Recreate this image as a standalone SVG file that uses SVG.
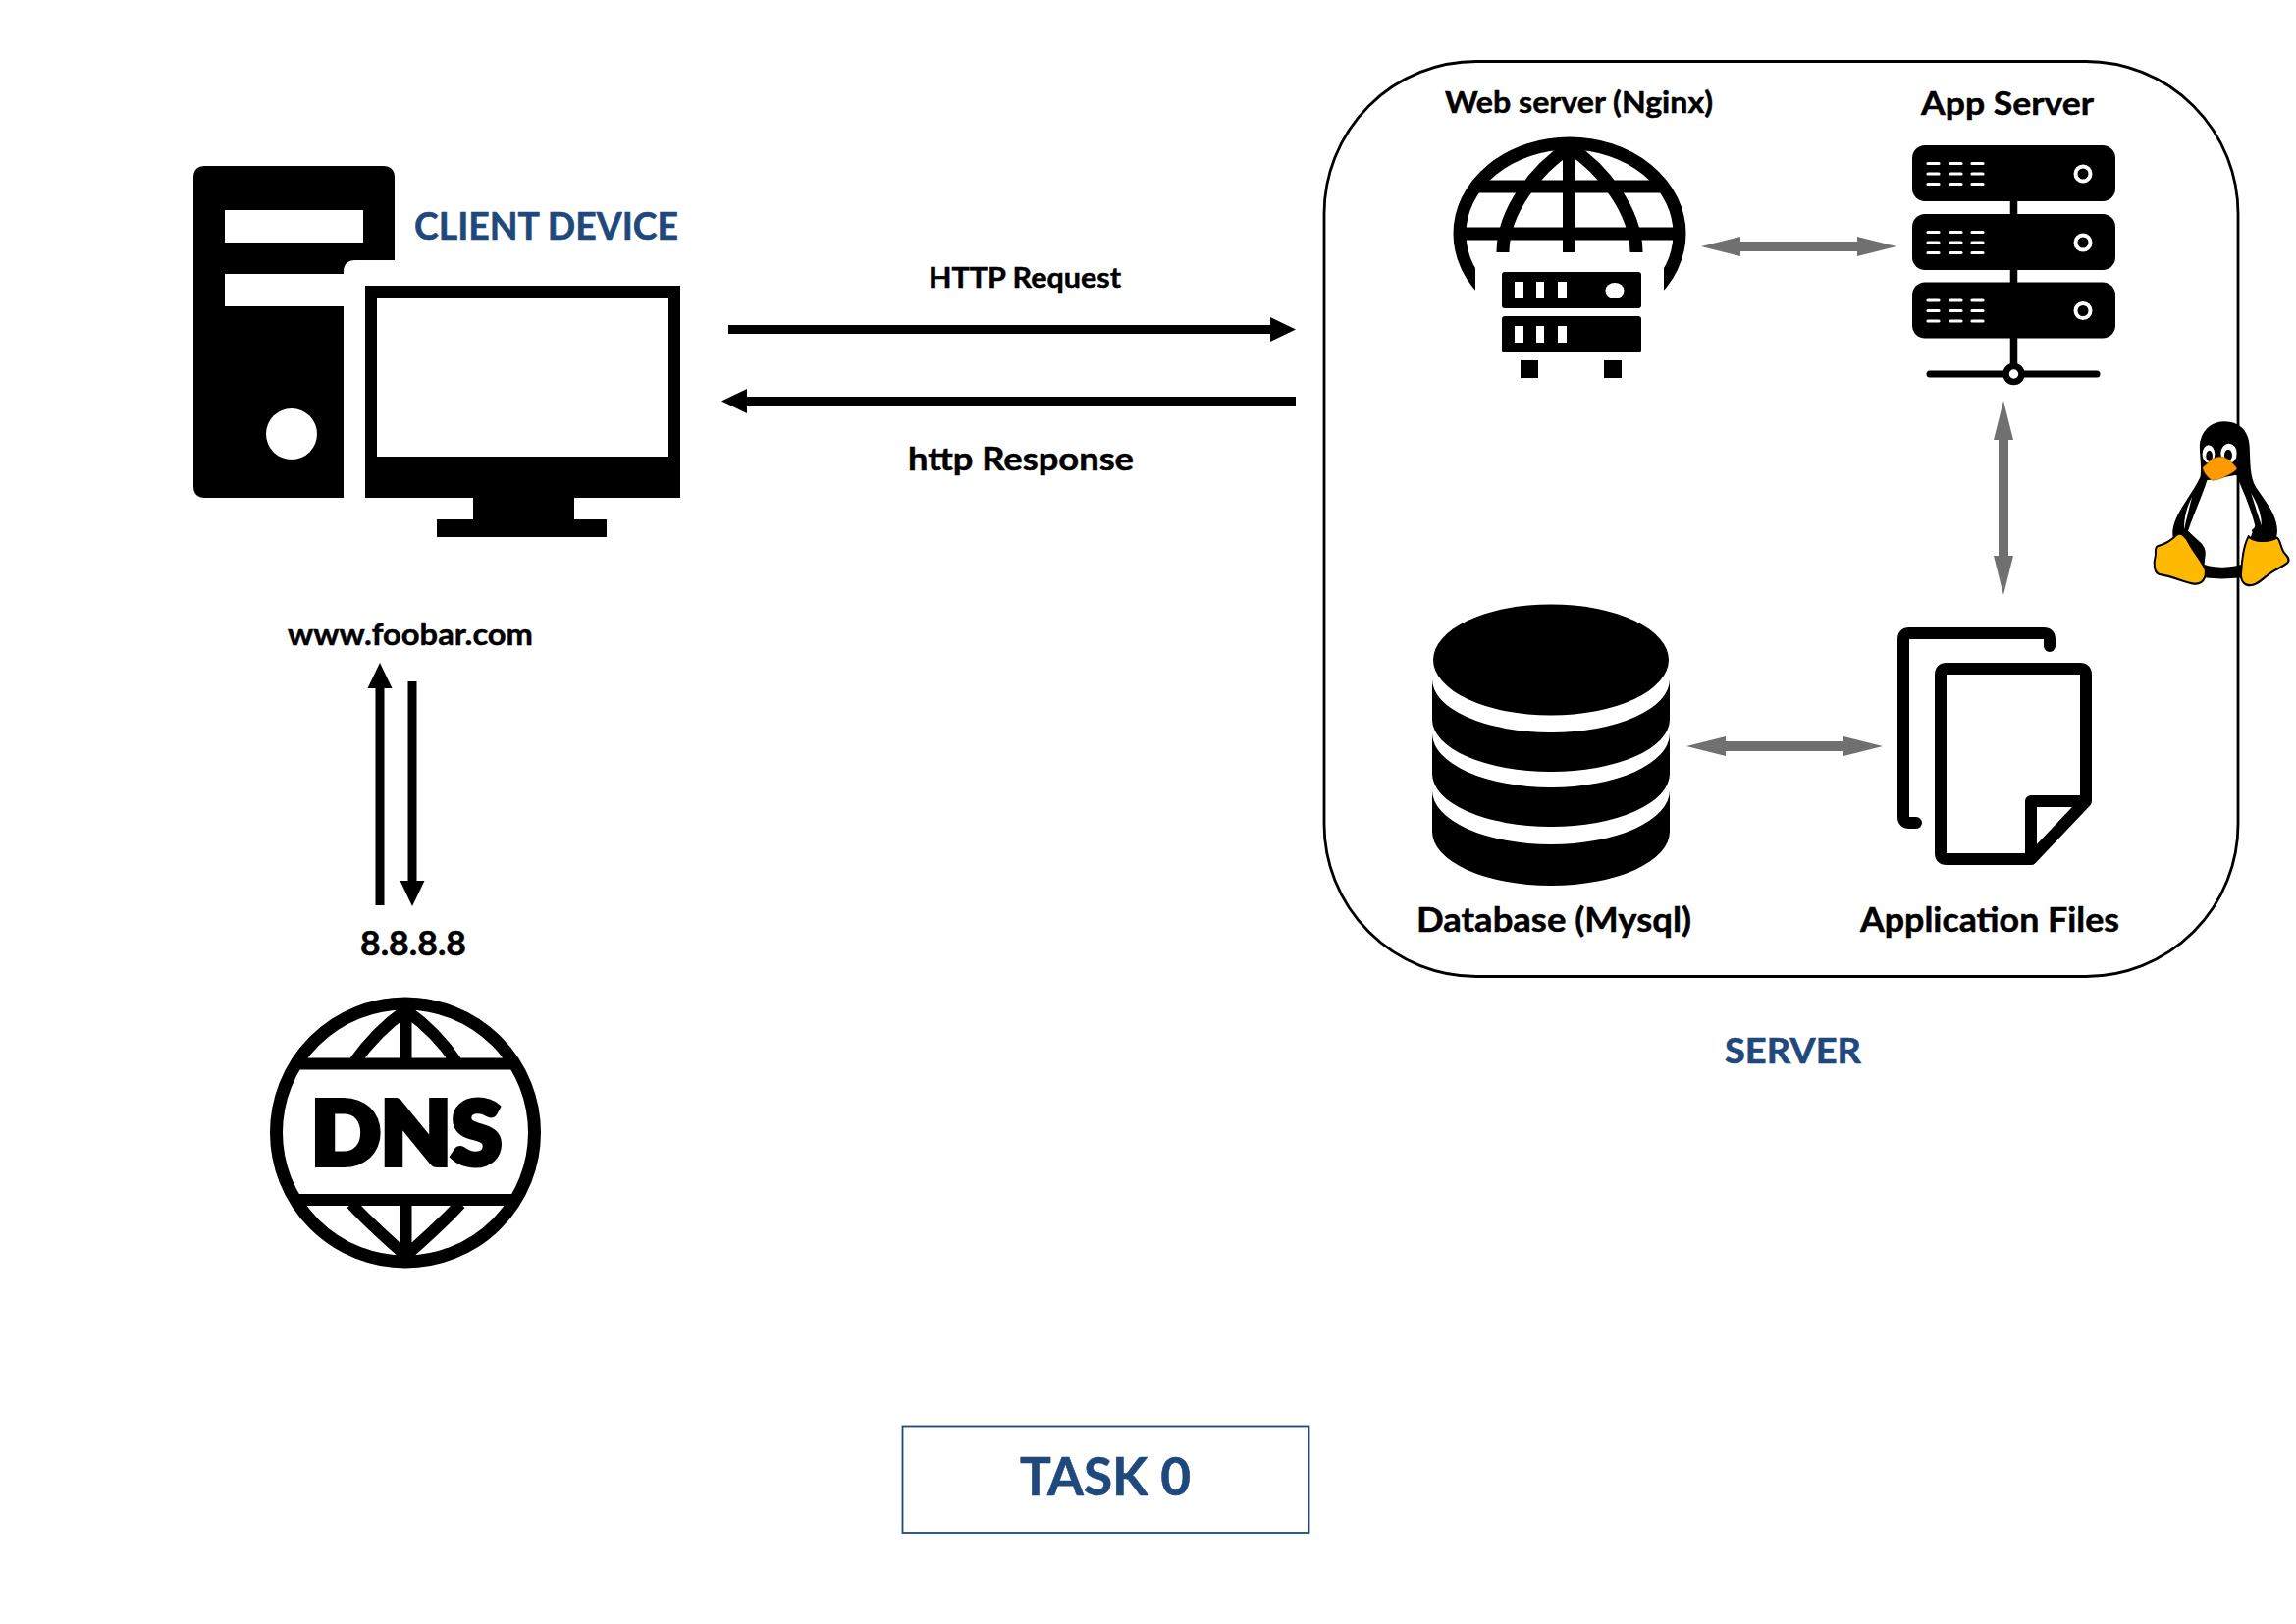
<svg xmlns="http://www.w3.org/2000/svg" width="2339" height="1654" viewBox="0 0 2339 1654">
<style>
text{font-family:"Lato","Carlito","Open Sans",sans-serif;font-weight:700;fill:#000;stroke:#000;stroke-width:.5}
text.blue{fill:#1F497D;stroke:#1F497D;stroke-width:.6}
.k{fill:#000}
.w{fill:#fff}
.ring{fill:none;stroke:#000;stroke-width:13}
.dash{stroke:#fff;stroke-width:3.2;stroke-linecap:round;fill:none}
.led{fill:none;stroke:#fff;stroke-width:4}
.page{fill:none;stroke:#000;stroke-width:12;stroke-linecap:round;stroke-linejoin:round}
.blk{stroke:#000;stroke-width:9;fill:none}
.gry{stroke:#707070;stroke-width:10;fill:none;marker-start:url(#hg);marker-end:url(#hg)}
.foot{fill:#FFB900;stroke:#000;stroke-width:6;stroke-linejoin:round}
</style>
<defs>
<marker id="hb" markerUnits="userSpaceOnUse" markerWidth="26" markerHeight="26" refX="0" refY="13" orient="auto"><path d="M0 .5L26 13L0 25.5Z" fill="#000"/></marker>
<marker id="hg" markerUnits="userSpaceOnUse" markerWidth="40" markerHeight="20" refX="0" refY="10" orient="auto-start-reverse"><path d="M0 0L40 10L0 20Z" fill="#707070"/></marker>
<clipPath id="webclip"><path d="M1470 130H1730V310H1695V257H1503V310H1470Z"/></clipPath>
<g id="rackunit">
<rect x="1948" y="0" width="207" height="57" rx="13" class="k"/>
<path class="dash" d="M1964 18.500H1975M1987 18.500H1998M2009 18.500H2020M1964 29H1975M1987 29H1998M2009 29H2020M1964 39.500H1975M1987 39.500H1998M2009 39.500H2020"/>
<circle cx="2122" cy="29" r="7.500" class="led"/>
</g>
</defs>

<g id="linux-tux" transform="translate(1900,60) scale(.3333,.37)">
<path class="k" d="M1098 998C1140 998 1172 1020 1175 1065C1178 1110 1175 1150 1195 1180C1225 1220 1260 1255 1260 1300C1260 1340 1200 1410 1150 1428C1110 1432 1070 1432 1040 1428C990 1400 938 1350 940 1300C945 1250 1000 1200 1025 1150C1030 1110 1018 1070 1025 1050C1035 1015 1065 998 1098 998Z"/>
<path class="w" d="M1045 1160C1030 1205 1005 1250 987 1300L1025 1335L1040 1365L1037 1392C1070 1402 1110 1402 1150 1392C1165 1360 1175 1320 1192 1285C1180 1240 1160 1200 1135 1145Z"/>
<path class="w" d="M1000 1205C985 1230 975 1260 975 1295C985 1260 990 1235 1000 1205ZM1180 1195C1200 1225 1212 1255 1212 1285C1200 1255 1190 1225 1180 1195Z"/>
<path class="k" d="M985 1298L1030 1335Q1048 1358 1035 1372L1000 1345Z"/>
<ellipse class="w" cx="1050" cy="1088" rx="19" ry="25"/>
<ellipse class="w" cx="1112" cy="1086" rx="25" ry="27"/>
<ellipse class="k" cx="1052" cy="1093" rx="10" ry="15"/>
<ellipse class="k" cx="1110" cy="1091" rx="12" ry="16"/>
<path d="M1032 1125C1050 1112 1060 1096 1085 1095C1110 1095 1125 1115 1138 1128C1125 1140 1085 1160 1062 1160C1050 1155 1035 1140 1032 1125Z" fill="#FF9A00" stroke="#A86400" stroke-width="2"/>
<path class="foot" d="M892 1342C918 1335 940 1322 952 1310C965 1302 978 1312 990 1332C1005 1358 1028 1380 1040 1405C1044 1430 1030 1447 1005 1445C975 1442 945 1425 905 1420C880 1418 882 1385 888 1365C888 1355 886 1347 892 1342Z"/>
<path class="foot" d="M1150 1410C1152 1375 1160 1335 1172 1314C1185 1328 1235 1332 1258 1318C1268 1318 1270 1345 1280 1358C1290 1368 1300 1378 1292 1386C1275 1400 1250 1405 1225 1425C1205 1440 1185 1455 1165 1447C1150 1440 1147 1425 1150 1410Z"/>
<path class="k" d="M1182 1297C1195 1285 1220 1283 1240 1310C1225 1328 1200 1335 1190 1322Z"/>
</g>

<g id="server-frame"><rect x="1349" y="62.500" width="931" height="932" rx="155" fill="none" stroke="#000" stroke-width="2.800"/></g>

<g id="client-device">
<path class="k" d="M209 169H390Q402 169 402 181V265H362Q350 265 350 277V507H209Q197 507 197 495V181Q197 169 209 169Z"/>
<rect class="w" x="229" y="214" width="141" height="33"/>
<rect class="w" x="229" y="279" width="121" height="33"/>
<circle class="w" cx="297" cy="442" r="26"/>
<path class="k" fill-rule="evenodd" d="M372 291H693V507H585V529H618V547H445V529H482V507H372ZM384 303V465H681V303Z"/>
<text x="422" y="244" font-size="38" class="blue" textLength="269" lengthAdjust="spacingAndGlyphs">CLIENT DEVICE</text>
</g>

<g id="web-server">
<text x="1472" y="115" font-size="30" textLength="273" lengthAdjust="spacingAndGlyphs">Web server (Nginx)</text>
<ellipse class="ring" cx="1599" cy="238" rx="112" ry="92" clip-path="url(#webclip)"/>
<path class="ring" d="M1504 190H1694M1488 238H1710M1598.500 150V257M1531 257C1531 215 1565 172 1599 150C1633 172 1667 215 1667 257"/>
<rect class="k" x="1530" y="277" width="142" height="37" rx="3"/>
<rect class="k" x="1530" y="322" width="142" height="37" rx="3"/>
<path class="w" d="M1543 287h9v17h-9zM1565 287h8v17h-8zM1587 287h9v17h-9zM1543 332h9v17h-9zM1565 332h8v17h-8zM1587 332h9v17h-9z"/>
<ellipse class="w" cx="1645" cy="296" rx="9.500" ry="8"/>
<rect class="k" x="1549" y="367" width="18" height="18"/>
<rect class="k" x="1634" y="367" width="18" height="18"/>
</g>

<g id="app-server">
<text x="1957" y="117" font-size="33" textLength="176" lengthAdjust="spacingAndGlyphs">App Server</text>
<path d="M2051.500 200V381" stroke="#000" stroke-width="7.500" fill="none"/>
<use href="#rackunit" y="148"/>
<use href="#rackunit" y="218"/>
<use href="#rackunit" y="287.500"/>
<path d="M1966 381H2136" stroke="#000" stroke-width="7" stroke-linecap="round"/>
<circle cx="2051.500" cy="381" r="8" fill="#fff" stroke="#000" stroke-width="6.500"/>
</g>

<g id="database">
<path class="k" d="M1459 805A121 55 0 0 0 1701 805V847A121 55 0 0 1 1459 847Z"/>
<path class="k" d="M1459 747A121 55 0 0 0 1701 747V788A121 54 0 0 1 1459 788Z"/>
<path class="k" d="M1459 692A121 54 0 0 0 1701 692V733A121 53 0 0 1 1459 733Z"/>
<ellipse class="k" cx="1580" cy="672" rx="120" ry="56.500"/>
<text x="1443" y="949" font-size="34" textLength="280" lengthAdjust="spacingAndGlyphs">Database (Mysql)</text>
</g>

<g id="application-files">
<path class="page" d="M2088 658V651Q2088 645 2082 645H1945Q1939 645 1939 651V832Q1939 838 1945 838H1952"/>
<path class="page" fill="#fff" d="M2069 875H1983Q1977 875 1977 869V687Q1977 681 1983 681H2119Q2125 681 2125 687V816L2069 875ZM2069 875V816H2125"/>
<text x="1895" y="949" font-size="34" textLength="264" lengthAdjust="spacingAndGlyphs">Application Files</text>
</g>

<g id="dns">
<text x="293" y="657" font-size="31" textLength="250" lengthAdjust="spacingAndGlyphs">www.foobar.com</text>
<text x="367" y="973" font-size="34" textLength="108" lengthAdjust="spacingAndGlyphs">8.8.8.8</text>
<circle cx="413" cy="1153.500" r="131.500" fill="none" stroke="#000" stroke-width="13"/>
<path fill="none" stroke="#000" stroke-width="12" d="M301 1083.500H525M301 1222H525M413.500 1025V1083M413.500 1222V1282M360 1083C375 1062 395 1042 413.500 1029C432 1042 452 1062 466 1083M358 1226C375 1245 395 1262 413.500 1279C432 1262 452 1245 469 1226"/>
<text x="317" y="1186" font-size="90" style="font-weight:900;stroke:#000;stroke-width:6;stroke-linejoin:miter" textLength="194" lengthAdjust="spacingAndGlyphs">DNS</text>
</g>

<g id="labels">
<text x="946" y="293" font-size="29" textLength="196" lengthAdjust="spacingAndGlyphs">HTTP Request</text>
<text x="925" y="479" font-size="33" textLength="230" lengthAdjust="spacingAndGlyphs">http Response</text>
<text x="1757" y="1083" font-size="37" class="blue" textLength="139" lengthAdjust="spacingAndGlyphs">SERVER</text>
</g>

<g id="task">
<rect x="919.500" y="1452.500" width="414" height="108.500" fill="none" stroke="#1F497D" stroke-width="1.800"/>
<text x="1039" y="1523" font-size="53" class="blue" textLength="174" lengthAdjust="spacingAndGlyphs">TASK 0</text>
</g>

<g id="connectors">
<line class="blk" x1="742" y1="335.500" x2="1294" y2="335.500" marker-end="url(#hb)"/>
<line class="blk" x1="1320" y1="408.500" x2="761" y2="408.500" marker-end="url(#hb)"/>
<line class="blk" x1="387" y1="922" x2="387" y2="701" marker-end="url(#hb)"/>
<line class="blk" x1="420" y1="694" x2="420" y2="897" marker-end="url(#hb)"/>
<line class="gry" x1="1773" y1="251" x2="1892" y2="251"/>
<line class="gry" x1="2041" y1="448" x2="2041" y2="566"/>
<line class="gry" x1="1758" y1="760" x2="1878" y2="760"/>
</g>
</svg>
